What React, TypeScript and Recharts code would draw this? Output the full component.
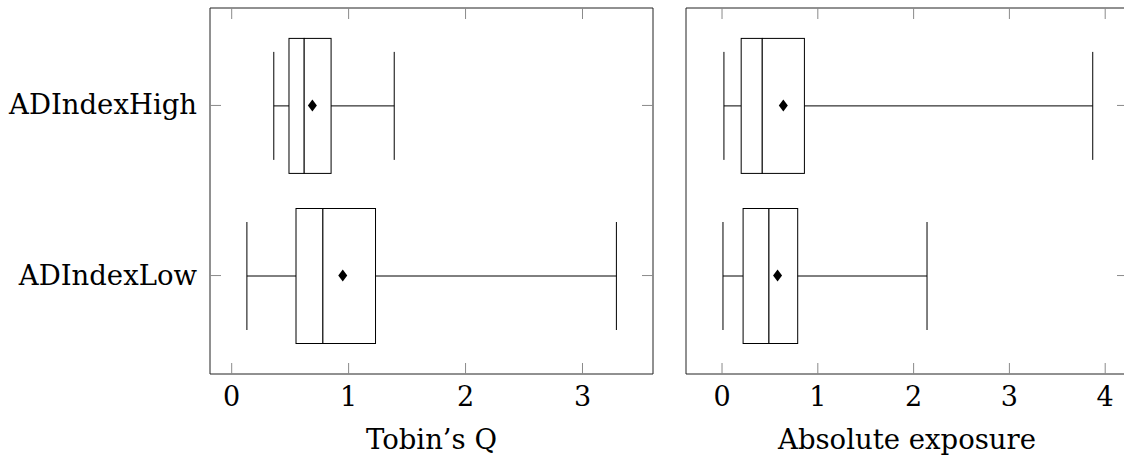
import { ComposedChart, Bar, Line, XAxis, YAxis } from "recharts";

const groups = ["ADIndexHigh", "ADIndexLow"];

// Tobin's Q, one entry per group
const tobinMin = [0.36, 0.13];
const tobinQ1 = [0.49, 0.55];
const tobinMedian = [0.62, 0.78];
const tobinQ3 = [0.85, 1.23];
const tobinMax = [1.39, 3.29];
const tobinMean = [0.69, 0.95];

// Absolute exposure
const expoMin = [0.02, 0.01];
const expoQ1 = [0.2, 0.22];
const expoMedian = [0.42, 0.49];
const expoQ3 = [0.86, 0.79];
const expoMax = [3.87, 2.14];
const expoMean = [0.64, 0.58];

const tobinTicks = [0, 1, 2, 3];
const expoTicks = [0, 1, 2, 3, 4];

const FONT = "DejaVu Serif";
const INK = "#000";
const FRAME = "#222";
const TICK = "#8a8a8a";
const TICK_LEN = 11;

type Stats = { min: number[]; q1: number[]; median: number[]; q3: number[]; max: number[]; mean: number[] };

// stacked segments: invisible offset, lower whisker, two box halves, upper whisker
function buildRows(s: Stats) {
  return groups.map((name, i) => ({
    name,
    base: s.min[i],
    lowWhisker: s.q1[i] - s.min[i],
    boxLow: s.median[i] - s.q1[i],
    boxHigh: s.q3[i] - s.median[i],
    highWhisker: s.max[i] - s.q3[i],
    mean: s.mean[i],
  }));
}

const tobinRows = buildRows({ min: tobinMin, q1: tobinQ1, median: tobinMedian, q3: tobinQ3, max: tobinMax, mean: tobinMean });
const expoRows = buildRows({ min: expoMin, q1: expoQ1, median: expoMedian, q3: expoQ3, max: expoMax, mean: expoMean });

interface ShapeProps { x?: number; y?: number; width?: number; height?: number }

const Hidden = () => <g />;

function BoxHalf({ x = 0, y = 0, width = 0, height = 0 }: ShapeProps) {
  return <rect x={x} y={y} width={width} height={height} fill="#fff" stroke={INK} strokeWidth={1} />;
}

function LowWhisker({ x = 0, y = 0, width = 0, height = 0 }: ShapeProps) {
  const cy = y + height / 2;
  return (
    <g stroke={INK} strokeWidth={1}>
      <line x1={x} y1={cy} x2={x + width} y2={cy} />
      <line x1={x} y1={y + height * 0.1} x2={x} y2={y + height * 0.9} />
    </g>
  );
}

function HighWhisker({ x = 0, y = 0, width = 0, height = 0 }: ShapeProps) {
  const cy = y + height / 2;
  return (
    <g stroke={INK} strokeWidth={1}>
      <line x1={x} y1={cy} x2={x + width} y2={cy} />
      <line x1={x + width} y1={y + height * 0.1} x2={x + width} y2={y + height * 0.9} />
    </g>
  );
}

function Diamond({ cx, cy }: { cx?: number; cy?: number }) {
  if (cx == null || cy == null) return <g />;
  return <polygon points={`${cx},${cy - 6} ${cx + 4.5},${cy} ${cx},${cy + 6} ${cx - 4.5},${cy}`} fill={INK} />;
}

interface TickProps { x?: number; y?: number; payload?: { value: string | number } }

// inward tick marks for the top and right frame edges
const TopTick = ({ x = 0, y = 0 }: TickProps) => <line x1={x} y1={y} x2={x} y2={y + TICK_LEN} stroke={TICK} />;
const RightTick = ({ x = 0, y = 0 }: TickProps) => <line x1={x} y1={y} x2={x - TICK_LEN} y2={y} stroke={TICK} />;

const BottomTickLabel = ({ x = 0, y = 0, payload }: TickProps) => (
  <text x={x} y={y} dy={21} textAnchor="middle" fill={INK} fontSize={27} style={{ fontFamily: FONT }}>
    {payload?.value}
  </text>
);

const LeftTickLabel = ({ x = 0, y = 0, payload }: TickProps) => (
  <text x={x} y={y} dy={9} textAnchor="end" fill={INK} fontSize={27.5} style={{ fontFamily: FONT }}>
    {payload?.value}
  </text>
);

interface PanelProps {
  rows: ReturnType<typeof buildRows>;
  domain: [number, number];
  ticks: number[];
  title: string;
  width: number;
  yAxisWidth: number;
  rightMargin: number;
  showCategories: boolean;
}

function BoxPanel({ rows, domain, ticks, title, width, yAxisWidth, rightMargin, showCategories }: PanelProps) {
  const pad = { top: 12.4, bottom: 13.4 };
  return (
    <ComposedChart
      layout="vertical"
      width={width}
      height={457}
      data={rows}
      margin={{ top: 7, right: rightMargin, bottom: 0, left: 0 }}
    >
      <XAxis
        type="number"
        domain={domain}
        ticks={ticks}
        allowDataOverflow
        height={83}
        tickSize={-TICK_LEN}
        tickMargin={22}
        axisLine={{ stroke: FRAME }}
        tickLine={{ stroke: TICK }}
        tick={<BottomTickLabel />}
        label={{ value: title, position: "insideBottom", offset: 8, fill: INK, fontSize: 27.5, style: { fontFamily: FONT } }}
      />
      <XAxis
        xAxisId="top"
        orientation="top"
        type="number"
        domain={domain}
        ticks={ticks}
        allowDataOverflow
        height={1}
        tickSize={0}
        tickMargin={0}
        tickLine={false}
        tick={<TopTick />}
        axisLine={{ stroke: FRAME }}
      />
      <YAxis
        type="category"
        dataKey="name"
        width={yAxisWidth}
        padding={pad}
        tickSize={-TICK_LEN}
        tickMargin={24}
        axisLine={{ stroke: FRAME }}
        tickLine={{ stroke: TICK }}
        tick={showCategories ? <LeftTickLabel /> : false}
      />
      <YAxis
        yAxisId="right"
        orientation="right"
        type="category"
        dataKey="name"
        width={1}
        padding={pad}
        tickSize={0}
        tickMargin={0}
        tickLine={false}
        tick={<RightTick />}
        axisLine={{ stroke: FRAME }}
      />
      <Bar dataKey="base" stackId="box" barSize={135} shape={<Hidden />} isAnimationActive={false} />
      <Bar dataKey="lowWhisker" stackId="box" barSize={135} shape={<LowWhisker />} isAnimationActive={false} />
      <Bar dataKey="boxLow" stackId="box" barSize={135} shape={<BoxHalf />} isAnimationActive={false} />
      <Bar dataKey="boxHigh" stackId="box" barSize={135} shape={<BoxHalf />} isAnimationActive={false} />
      <Bar dataKey="highWhisker" stackId="box" barSize={135} shape={<HighWhisker />} isAnimationActive={false} />
      <Line dataKey="mean" stroke="none" dot={<Diamond />} activeDot={false} isAnimationActive={false} />
    </ComposedChart>
  );
}

export default function App() {
  return (
    <div
      style={{
        position: "fixed", left: 0, top: 0, width: 1124, height: 457,
        overflow: "hidden", background: "#fff", fontFamily: FONT,
      }}
    >
      <div style={{ position: "absolute", left: 0, top: 0 }}>
        <BoxPanel
          rows={tobinRows}
          domain={[-0.1855, 3.603]}
          ticks={tobinTicks}
          title="Tobin’s Q"
          width={660}
          yAxisWidth={210}
          rightMargin={6}
          showCategories
        />
      </div>
      <div style={{ position: "absolute", left: 660, top: 0 }}>
        <BoxPanel
          rows={expoRows}
          domain={[-0.376, 4.238]}
          ticks={expoTicks}
          title="Absolute exposure"
          width={480}
          yAxisWidth={26}
          rightMargin={11}
          showCategories={false}
        />
      </div>
    </div>
  );
}
